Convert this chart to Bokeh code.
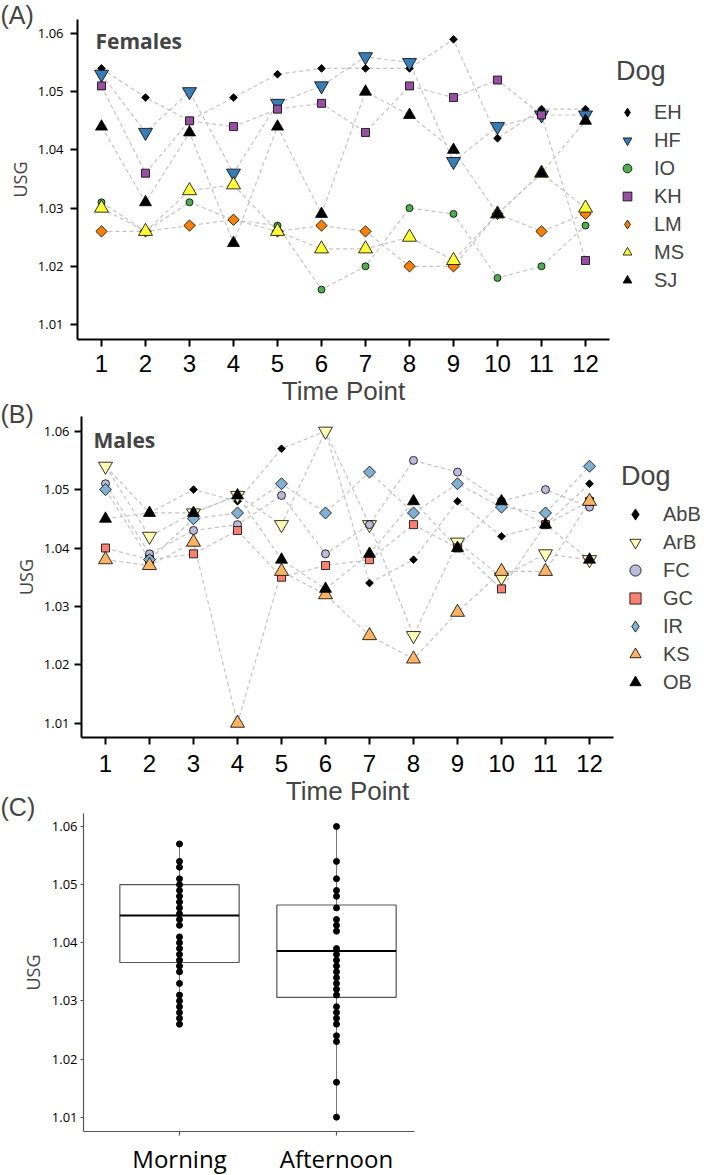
import math

from bokeh.plotting import figure
from bokeh.models import (FixedTicker, Label, Legend, LegendItem, LinearAxis, NumeralTickFormatter,
                          Range1d)
from bokeh.embed import file_html
from bokeh.resources import INLINE

time_points = [1, 2, 3, 4, 5, 6, 7, 8, 9, 10, 11, 12]
usg_ticks = [1.01, 1.02, 1.03, 1.04, 1.05, 1.06]

# (A) females
female_names = ["EH", "HF", "IO", "KH", "LM", "MS", "SJ"]
eh_usg = [1.054, 1.049, 1.045, 1.049, 1.053, 1.054, 1.054, 1.054, 1.059, 1.042, 1.047, 1.047]
hf_usg = [1.053, 1.043, 1.050, 1.036, 1.048, 1.051, 1.056, 1.055, 1.038, 1.044, 1.046, 1.046]
io_usg = [1.031, 1.026, 1.031, 1.028, 1.027, 1.016, 1.020, 1.030, 1.029, 1.018, 1.020, 1.027]
kh_usg = [1.051, 1.036, 1.045, 1.044, 1.047, 1.048, 1.043, 1.051, 1.049, 1.052, 1.046, 1.021]
lm_usg = [1.026, 1.026, 1.027, 1.028, 1.026, 1.027, 1.026, 1.020, 1.020, 1.029, 1.026, 1.029]
ms_usg = [1.030, 1.026, 1.033, 1.034, 1.026, 1.023, 1.023, 1.025, 1.021, 1.029, 1.036, 1.030]
sj_usg = [1.044, 1.031, 1.043, 1.024, 1.044, 1.029, 1.050, 1.046, 1.040, 1.029, 1.036, 1.045]
female_usg = [eh_usg, hf_usg, io_usg, kh_usg, lm_usg, ms_usg, sj_usg]

# (B) males
male_names = ["AbB", "ArB", "FC", "GC", "IR", "KS", "OB"]
abb_usg = [1.054, 1.046, 1.050, 1.048, 1.057, 1.060, 1.034, 1.038, 1.048, 1.042, 1.044, 1.051]
arb_usg = [1.054, 1.042, 1.046, 1.049, 1.044, 1.060, 1.044, 1.025, 1.041, 1.035, 1.039, 1.038]
fc_usg = [1.051, 1.039, 1.043, 1.044, 1.049, 1.039, 1.044, 1.055, 1.053, 1.048, 1.050, 1.047]
gc_usg = [1.040, 1.038, 1.039, 1.043, 1.035, 1.037, 1.038, 1.044, 1.040, 1.033, 1.044, 1.048]
ir_usg = [1.050, 1.038, 1.045, 1.046, 1.051, 1.046, 1.053, 1.046, 1.051, 1.047, 1.046, 1.054]
ks_usg = [1.038, 1.037, 1.041, 1.010, 1.036, 1.032, 1.025, 1.021, 1.029, 1.036, 1.036, 1.048]
ob_usg = [1.045, 1.046, 1.046, 1.049, 1.038, 1.033, 1.039, 1.048, 1.040, 1.048, 1.044, 1.038]
male_usg = [abb_usg, arb_usg, fc_usg, gc_usg, ir_usg, ks_usg, ob_usg]

# (C) morning vs afternoon
day_parts = ["Morning", "Afternoon"]
morning_usg = [1.057, 1.054, 1.053, 1.051, 1.050, 1.049, 1.048, 1.047, 1.046, 1.045, 1.044, 1.043, 1.041,
               1.040, 1.039, 1.038, 1.037, 1.036, 1.035, 1.033, 1.031, 1.030, 1.029, 1.028, 1.027, 1.026]
afternoon_usg = [1.060, 1.054, 1.051, 1.049, 1.048, 1.046, 1.044, 1.043, 1.042, 1.039, 1.038, 1.037, 1.036,
                 1.035, 1.034, 1.033, 1.032, 1.031, 1.029, 1.028, 1.027, 1.026, 1.024, 1.023, 1.016, 1.010]
box_q1 = [1.0366, 1.0306]
box_median = [1.0447, 1.0386]
box_q3 = [1.0500, 1.0465]

# marker styles (marker, rotate 45deg, fill, size)
female_styles = [("square", True, "black", 5.5), ("inverted_triangle", False, "#377EB8", 14),
                 ("circle", False, "#4DAF4A", 7), ("square", False, "#984EA3", 8),
                 ("square", True, "#FF7F00", 8), ("triangle", False, "#FFFF33", 14),
                 ("triangle", False, "black", 12)]
male_styles = [("square", True, "black", 5.5), ("inverted_triangle", False, "#FFFFB3", 14),
               ("circle", False, "#BEBADA", 8), ("square", False, "#FB8072", 8),
               ("square", True, "#80B1D3", 8.5), ("triangle", False, "#FDB462", 14),
               ("triangle", False, "black", 12)]

W, H = 708, 1174
SANS = "Liberation Sans"
CAL = "Open Sans"
NAN = float("nan")

# one canvas, three panels: each panel gets its own named ranges,
# pinned so that (pixel, value) anchors land where the panels sit on the page
p = figure(width=W, height=H, x_range=Range1d(0, W), y_range=Range1d(H, 0),
           x_axis_type=None, y_axis_type=None, output_backend="svg", toolbar_location=None,
           min_border=0)
p.outline_line_color = None


class Panel:
    def __init__(self, name, x_anchor, y_anchor, box):
        self.xn, self.yn = "x" + name, "y" + name
        self.xa, self.ya = x_anchor, y_anchor   # (pixel, value, pixels per unit)
        self.box = box                          # left, right, top, bottom in pixels
        px, v, k = x_anchor
        p.extra_x_ranges[self.xn] = Range1d(v - px / k, v + (W - px) / k)
        py, v, k = y_anchor
        p.extra_y_ranges[self.yn] = Range1d(v - (H - py) / k, v + py / k)

    def xv(self, px):
        return self.xa[1] + (px - self.xa[0]) / self.xa[2]

    def yv(self, py):
        return self.ya[1] - (py - self.ya[0]) / self.ya[2]

    def axes(self, color, width):
        left, right, top, bottom = self.box
        xax = LinearAxis(x_range_name=self.xn, y_range_name=self.yn, fixed_location=self.yv(bottom),
                         bounds=(self.xv(left), self.xv(right)))
        yax = LinearAxis(x_range_name=self.xn, y_range_name=self.yn, fixed_location=self.xv(left),
                         bounds=(self.yv(bottom), self.yv(top)),
                         ticker=FixedTicker(ticks=usg_ticks), formatter=NumeralTickFormatter(format="0.00"),
                         axis_label="USG")
        for ax in (xax, yax):
            ax.axis_line_color = color
            ax.axis_line_width = width
            ax.major_tick_line_color = color
            ax.major_tick_line_width = width
            ax.major_tick_in = 0
            ax.minor_tick_line_color = None
            ax.axis_label_text_font_style = "normal"
            ax.major_label_text_color = "black"
        yax.axis_label_text_font = CAL
        yax.axis_label_text_font_size = "18px"
        yax.major_label_text_font = CAL
        yax.major_label_text_font_size = "13px"
        p.add_layout(xax, "below")
        p.add_layout(yax, "left")
        return xax, yax


def panel_tag(text, y):
    p.add_layout(Label(x=0, y=y, text=text, text_font=SANS, text_font_size="25px", text_baseline="top"))


def time_panel(panel, heading, heading_xy, names, series, styles, legend_x, legend_bottom, glyph_w, standoff,
               title_gap, y_standoff, x_standoff):
    xax, yax = panel.axes("black", 2)
    yax.major_tick_out = 7
    yax.major_label_standoff = y_standoff
    yax.axis_label_standoff = 3
    xax.ticker = FixedTicker(ticks=time_points)
    xax.major_tick_out = 7
    xax.major_label_text_font = SANS
    xax.major_label_text_font_size = "24px"
    xax.major_label_standoff = x_standoff
    xax.axis_label = "Time Point"
    xax.axis_label_text_font = SANS
    xax.axis_label_text_font_size = "26px"
    xax.axis_label_standoff = 1

    for vals in series:
        p.line(time_points, vals, line_color="#c4c4c4", line_width=1.2, line_dash="4 3",
               x_range_name=panel.xn, y_range_name=panel.yn)
    items = []
    for name, vals, (marker, rot, fill, size) in zip(names, series, styles):
        r = p.scatter(time_points, vals, marker=marker, size=size, angle=math.pi / 4 if rot else 0,
                      fill_color=fill, line_color="black", line_width=0.8,
                      x_range_name=panel.xn, y_range_name=panel.yn)
        if rot:
            # legends draw markers unrotated, so the diamonds get a diamond key (never drawn in the plot)
            r = p.scatter([NAN], [NAN], marker="diamond", fill_color=fill, line_color="black", line_width=0.8,
                          x_range_name=panel.xn, y_range_name=panel.yn)
        items.append(LegendItem(label=name, renderers=[r]))
    legend = Legend(items=items, title="Dog", location=(legend_x, H - legend_bottom),
                    border_line_color=None, background_fill_alpha=0,
                    padding=0, margin=0, spacing=0, glyph_width=glyph_w, glyph_height=28,
                    label_height=28, label_standoff=standoff, title_standoff=title_gap,
                    label_text_font=SANS, label_text_font_size="20px",
                    title_text_font=SANS, title_text_font_size="27px", title_text_font_style="normal")
    p.add_layout(legend)
    p.add_layout(Label(x=heading_xy[0], y=heading_xy[1], text=heading, text_font=CAL,
                       text_font_size="21px", text_font_style="bold", text_baseline="alphabetic"))


panel_a = Panel("A", (101, 1, 44), (33, 1.06, 5820), (77, 609, 18.5, 339))
time_panel(panel_a, "Females", (95, 40), female_names, female_usg, female_styles, 616, 294, 22, 16, 11, 7, 8)
panel_tag("(A)", 0)

panel_b = Panel("B", (105, 1, 44), (430.7, 1.06, 5840), (81, 613, 416, 737))
time_panel(panel_b, "Males", (93, 439), male_names, male_usg, male_styles, 621, 696, 28, 14, 8, 5, 10)
panel_tag("(B)", 399)

# (C) box plot
panel_c = Panel("C", (179, 1, 157), (826, 1.06, 5813), (83, 414, 813, 1131))
xc, yc = panel_c.axes("#555555", 1.2)
yc.major_tick_out = 3
yc.major_label_standoff = 3
yc.axis_label_standoff = 4
xc.ticker = FixedTicker(ticks=[1, 2])
xc.major_label_overrides = {1: day_parts[0], 2: day_parts[1]}
xc.major_tick_out = 4
xc.major_label_standoff = 6
xc.major_label_text_font = CAL
xc.major_label_text_font_size = "24px"
panel_tag("(C)", 792)

xs = [1, 2]
groups = [morning_usg, afternoon_usg]
half = 0.38
rng = dict(x_range_name=panel_c.xn, y_range_name=panel_c.yn)
p.segment(x0=xs, x1=xs, y0=[min(g) for g in groups], y1=box_q1, line_color="#777777", line_width=1, **rng)
p.segment(x0=xs, x1=xs, y0=box_q3, y1=[max(g) for g in groups], line_color="#777777", line_width=1, **rng)
p.vbar(x=xs, width=2 * half, bottom=box_q1, top=box_q3, fill_color="white",
       line_color="#555555", line_width=1.2, **rng)
p.segment(x0=[x - half for x in xs], x1=[x + half for x in xs], y0=box_median, y1=box_median,
          line_color="black", line_width=2, **rng)
for x, g in zip(xs, groups):
    p.scatter([x] * len(g), g, marker="circle", size=6, fill_color="black", line_color="black", **rng)

open("out.html", "w").write(file_html(p, INLINE))
